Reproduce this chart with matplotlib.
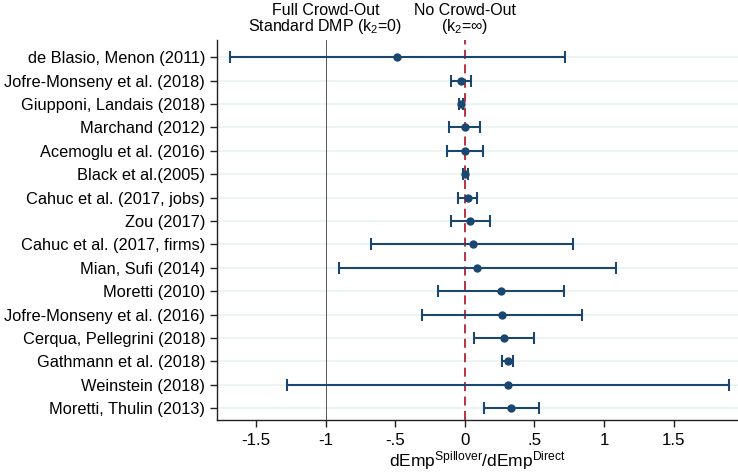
import matplotlib
matplotlib.use("Agg")
import matplotlib.pyplot as plt
import numpy as np

plt.rcParams['font.family'] = ['Liberation Sans', 'DejaVu Sans']
plt.rcParams['mathtext.fontset'] = 'custom'
plt.rcParams['mathtext.rm'] = 'Liberation Sans'
plt.rcParams['mathtext.it'] = 'Liberation Sans'

# studies, top to bottom
studies = ["de Blasio, Menon (2011)", "Jofre-Monseny et al. (2018)",
           "Giupponi, Landais (2018)", "Marchand (2012)",
           "Acemoglu et al. (2016)", "Black et al.(2005)",
           "Cahuc et al. (2017, jobs)", "Zou (2017)",
           "Cahuc et al. (2017, firms)", "Mian, Sufi (2014)",
           "Moretti (2010)", "Jofre-Monseny et al. (2016)",
           "Cerqua, Pellegrini (2018)", "Gathmann et al. (2018)",
           "Weinstein (2018)", "Moretti, Thulin (2013)"]
estimate = [-0.49, -0.03, -0.025, 0.0, 0.0, 0.005, 0.02, 0.037,
            0.06, 0.09, 0.26, 0.27, 0.28, 0.31, 0.31, 0.33]
ci_low = [-1.69, -0.10, -0.04, -0.11, -0.13, -0.01, -0.05, -0.10,
          -0.67, -0.90, -0.19, -0.31, 0.07, 0.27, -1.28, 0.135]
ci_high = [0.72, 0.045, -0.01, 0.11, 0.13, 0.02, 0.09, 0.18,
           0.78, 1.09, 0.71, 0.84, 0.50, 0.35, 1.90, 0.53]
xticks = [-1.5, -1, -0.5, 0, 0.5, 1, 1.5]
xticklabels = ["-1.5", "-1", "-.5", "0", ".5", "1", "1.5"]

navy = "#1a476f"
est = np.array(estimate)
lo = np.array(ci_low)
hi = np.array(ci_high)
y = np.arange(len(studies))

fig = plt.figure(figsize=(7.38, 4.73), dpi=100)
ax = fig.add_axes([0.294, 0.112, 0.706, 0.803])

# light horizontal grid
for yy in y:
    ax.axhline(yy, color="#eaf2f3", lw=1.2, zorder=0)

ax.axvline(-1, color="#555555", lw=0.7, zorder=1)
ax.axvline(0, color="#b22234", lw=1.3, ls=(0, (5, 3)), zorder=2)

ax.errorbar(est, y, xerr=[est - lo, hi - est], fmt="o", color=navy,
            ms=5, lw=1.5, capsize=4.5, capthick=1.5, zorder=3)

ax.set_xlim(-1.78, 1.963)
ax.set_ylim(len(studies) - 1 + 0.51, -0.73)
ax.set_yticks(y)
ax.set_yticklabels(studies, fontsize=11.8)
ax.set_xticks(xticks)
ax.set_xticklabels(xticklabels, fontsize=12.2)
ax.tick_params(axis="both", direction="out", length=5, width=1, color="#222222")
ax.tick_params(axis="x", pad=4)
for s in ["top", "right"]:
    ax.spines[s].set_visible(False)
for s in ["left", "bottom"]:
    ax.spines[s].set_linewidth(1)
    ax.spines[s].set_color("#222222")

ax.set_xlabel(r"dEmp$^{\mathrm{Spillover}}$/dEmp$^{\mathrm{Direct}}$",
              fontsize=12.5, labelpad=1)

ax.text(-1, 1.01, "Full Crowd-Out\nStandard DMP (k$_2$=0)",
        transform=ax.get_xaxis_transform(), ha="center", va="bottom",
        fontsize=11.5, linespacing=0.95)
ax.text(0, 1.01, "No Crowd-Out\n(k$_2$=\u221e)",
        transform=ax.get_xaxis_transform(), ha="center", va="bottom",
        fontsize=11.5, linespacing=0.95)

fig.savefig("out.png", dpi=100)
